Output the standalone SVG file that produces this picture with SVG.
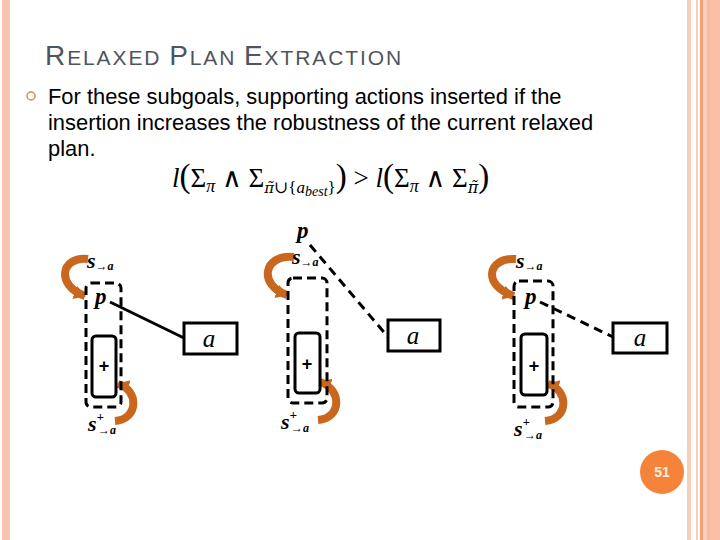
<svg xmlns="http://www.w3.org/2000/svg" width="720" height="540" viewBox="0 0 720 540">
<style>
.title{font-family:"Liberation Sans",Arial,sans-serif;fill:#50555d;letter-spacing:1.9px}
.body{font-family:"Liberation Sans",Arial,sans-serif;font-size:21.9px;fill:#000}
.math{font-family:"Liberation Serif","DejaVu Serif",serif;fill:#000}
.lbl{font-family:"Liberation Serif","DejaVu Serif",serif;font-weight:bold;font-style:italic;fill:#000}
.plus{font-family:"Liberation Sans",Arial,sans-serif;font-weight:bold;font-size:18px;fill:#000}
.it{font-style:italic}
.dash{fill:none;stroke:#000;stroke-width:3;stroke-dasharray:9 5}
.inner{fill:none;stroke:#000;stroke-width:3}
.box{fill:#fff;stroke:#000;stroke-width:3}
.arc{fill:none;stroke:#c9671f;stroke-width:8;marker-end:url(#ah)}
.link{stroke:#000;stroke-width:3;fill:none}
.linkd{stroke:#000;stroke-width:3;fill:none;stroke-dasharray:9 6}
</style>
<defs>
<marker id="ah" markerUnits="userSpaceOnUse" markerWidth="16" markerHeight="16" refX="11" refY="7" orient="auto">
<path d="M0,0 L12,7 L0,14 Z" fill="#c9671f"/>
</marker>
</defs>
<rect width="720" height="540" fill="#fff"/>
<!-- borders -->
<rect x="2" y="0" width="8" height="540" fill="#f7c4ae"/>
<rect x="687" y="0" width="4" height="540" fill="#f9cdb9"/>
<rect x="696" y="0" width="2" height="540" fill="#f9cdb9"/>
<rect x="700" y="0" width="3" height="540" fill="#eea27a"/>
<rect x="703" y="0" width="4" height="540" fill="#fbcfbc"/>
<rect x="707" y="0" width="3" height="540" fill="#f7bba3"/>
<rect x="710" y="0" width="10" height="540" fill="#f9c0a8"/>

<text class="title" x="45" y="65"><tspan font-size="28">R</tspan><tspan font-size="21">ELAXED </tspan><tspan font-size="28">P</tspan><tspan font-size="21">LAN </tspan><tspan font-size="28">E</tspan><tspan font-size="21">XTRACTION</tspan></text>

<circle cx="31" cy="96" r="4" fill="none" stroke="#c9905a" stroke-width="1.5"/>
<text class="body" x="48" y="104">For these subgoals, supporting actions inserted if the</text>
<text class="body" x="48" y="130">insertion increases the robustness of the current relaxed</text>
<text class="body" x="48" y="156">plan.</text>

<text class="math" x="172" y="187" font-size="27"><tspan class="it">l</tspan><tspan font-size="33">(</tspan>Σ<tspan class="it" font-size="18" dy="5">π</tspan><tspan dy="-5"> ∧ Σ</tspan><tspan font-size="17" dy="6"><tspan class="it" font-family="DejaVu Serif,serif" font-size="15">π̃</tspan>∪{<tspan class="it">a</tspan><tspan class="it" font-size="14" dy="3">best</tspan><tspan dy="-3">}</tspan></tspan><tspan font-size="33" dy="-6">)</tspan> &gt; <tspan class="it">l</tspan><tspan font-size="33">(</tspan>Σ<tspan class="it" font-size="18" dy="5">π</tspan><tspan dy="-5"> ∧ Σ</tspan><tspan class="it" font-family="DejaVu Serif,serif" font-size="16" dy="6">π̃</tspan><tspan font-size="33" dy="-6">)</tspan></text>

<g id="connectors">
<line class="link" x1="110" y1="302" x2="184" y2="338"/>
<line class="linkd" x1="310" y1="245" x2="388" y2="337"/>
<line class="linkd" x1="540" y1="302" x2="613" y2="337"/>
<path class="arc" d="M88,259 C60,256 56,286 85,296"/>
<path class="arc" d="M115,421 C139,419 139,390 118,384"/>
<path class="arc" d="M294,257 C263,254 258,285 287,295"/>
<path class="arc" d="M318,420 C342,418 342,389 320,382"/>
<path class="arc" d="M516,259 C487,257 482,286 514,296"/>
<path class="arc" d="M545,421 C569,419 569,390 548,384"/>
</g>

<g id="group1">
<rect class="dash" x="86" y="283" width="35" height="124" rx="5"/>
<rect class="inner" x="92" y="336" width="24" height="61" rx="4"/>
<text class="plus" x="104" y="372" text-anchor="middle">+</text>
<text class="lbl" x="95" y="304" font-size="23">p</text>
<text class="lbl" x="87" y="268" font-size="22">s<tspan font-size="12" dy="2">→a</tspan></text>
<text class="lbl" x="88" y="431" font-size="22">s<tspan font-size="13" dy="-10">+</tspan><tspan font-size="12" x="98" dy="13">→a</tspan></text>
</g>
<g id="action1">
<rect class="box" x="184" y="323" width="53" height="31"/>
<text class="math it" x="209" y="347" font-size="25" text-anchor="middle">a</text>
</g>

<g id="group2">
<rect class="dash" x="288" y="278" width="39" height="125" rx="5"/>
<rect class="inner" x="295" y="333" width="25" height="60" rx="4"/>
<text class="plus" x="307" y="370" text-anchor="middle">+</text>
<text class="lbl" x="297" y="238" font-size="23">p</text>
<text class="lbl" x="292" y="264" font-size="22">s<tspan font-size="12" dy="2">→a</tspan></text>
<text class="lbl" x="281" y="429" font-size="22">s<tspan font-size="13" dy="-10">+</tspan><tspan font-size="12" x="291" dy="13">→a</tspan></text>
</g>
<g id="action2">
<rect class="box" x="388" y="320" width="52" height="31"/>
<text class="math it" x="413" y="344" font-size="25" text-anchor="middle">a</text>
</g>

<g id="group3">
<rect class="dash" x="514" y="281" width="39" height="126" rx="5"/>
<rect class="inner" x="521" y="334" width="26" height="61" rx="4"/>
<text class="plus" x="534" y="372" text-anchor="middle">+</text>
<text class="lbl" x="525" y="304" font-size="23">p</text>
<text class="lbl" x="516" y="268" font-size="22">s<tspan font-size="12" dy="2">→a</tspan></text>
<text class="lbl" x="514" y="436" font-size="22">s<tspan font-size="13" dy="-10">+</tspan><tspan font-size="12" x="524" dy="13">→a</tspan></text>
</g>
<g id="action3">
<rect class="box" x="613" y="323" width="54" height="30"/>
<text class="math it" x="640" y="346" font-size="25" text-anchor="middle">a</text>
</g>

<g id="pagenum">
<circle cx="662" cy="472" r="22" fill="#f5843a"/>
<text x="662" y="477" font-family="Liberation Sans,Arial,sans-serif" font-size="14" font-weight="bold" fill="#fbeee0" text-anchor="middle">51</text>
</g>
</svg>
